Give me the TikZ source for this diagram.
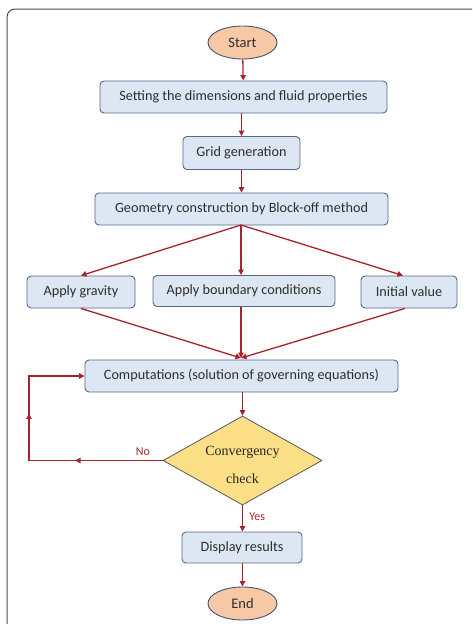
\documentclass[tikz,border=0pt]{standalone}
\usepackage{fontspec}
\setmainfont{Carlito}
\newfontfamily\serifdia{Liberation Serif}
\usetikzlibrary{shapes.geometric,arrows.meta,decorations.markings}
\definecolor{arr}{HTML}{A8242B}
\definecolor{boxfill}{HTML}{DDE7F3}
\definecolor{boxdraw}{HTML}{56698A}
\definecolor{ovalfill}{HTML}{F7C8A6}
\definecolor{diafill}{HTML}{FBDF87}
\definecolor{txt}{HTML}{2E2E2E}
\tikzset{
  procbox/.style={rectangle, rounded corners=4pt, draw=boxdraw, line width=0.9pt, fill=boxfill,
    inner sep=0pt, font=\fontsize{14.2}{16}\selectfont, text=txt},
  oval/.style={ellipse, draw=boxdraw!80!black, line width=0.9pt, fill=ovalfill, inner sep=0pt,
    minimum width=69pt, minimum height=33pt, font=\fontsize{14.5}{16}\selectfont, text=txt},
  dia/.style={diamond, draw=black!65, line width=0.8pt, fill=diafill, inner sep=0pt,
    minimum width=159pt, minimum height=89pt, aspect=1.8},
  flow/.style={draw=arr, line width=1.3pt, -{Triangle[length=5.5pt,width=5.5pt]}},
  loopmarks/.style={postaction={decorate}, decoration={markings,
    mark=at position 0.32 with {\arrow[arr]{Triangle[length=5.5pt,width=5.5pt]}},
    mark=at position 0.66 with {\arrow[arr]{Triangle[length=5.5pt,width=5.5pt]}}}},
  lab/.style={text=arr, font=\fontsize{12}{14}\selectfont}
}
\begin{document}
\begin{tikzpicture}[x=1pt,y=-1pt]
\useasboundingbox (0,0) rectangle (472,624);
% outer frame
\draw[black!70, line width=1pt, rounded corners=8pt] (472,9) -- (7,9) -- (7,626);
% nodes
\node[oval] (start) at (242.5,42.5) {Start};
\node[procbox, minimum width=287pt, minimum height=32pt] (set) at (243.5,97) {Setting the dimensions and fluid properties};
\node[procbox, minimum width=117pt, minimum height=33pt] (grid) at (241.5,153) {Grid generation};
\node[procbox, minimum width=293pt, minimum height=32pt] (geom) at (241.5,209) {Geometry construction by Block-off method};
\node[procbox, minimum width=108pt, minimum height=32pt] (grav) at (81,292) {Apply gravity};
\node[procbox, minimum width=182pt, minimum height=31pt] (bound) at (244,291) {Apply boundary conditions};
\node[procbox, minimum width=96pt, minimum height=32pt] (init) at (409,292) {Initial value};
\node[procbox, minimum width=313pt, minimum height=32pt] (comp) at (241.5,376) {Computations (solution of governing equations)};
\node[dia] (conv) at (242.5,460.5) {};
\node[font=\serifdia\fontsize{14}{16}\selectfont, text=black!85] (convA) at (242.5,452) {Convergency};
\node[font=\serifdia\fontsize{14}{16}\selectfont, text=black!85] (convB) at (242.5,479) {check};
\node[procbox, minimum width=120pt, minimum height=31pt] (disp) at (242,547.5) {Display results};
\node[oval] (end) at (242.5,603.5) {End};
\coordinate (c1) at (241,225);
\coordinate (c2) at (241,358);
\coordinate (lc) at (29,460.5);
\coordinate (lt) at (29,376);
% connectors
\draw[flow] (start) -- (set);
\draw[flow] (set.south -| grid) -- (grid);
\draw[flow] (grid) -- (geom.north -| grid);
\draw[flow] (c1) -- (grav.north);
\draw[flow] (c1) -- (bound.north -| c1);
\draw[flow] (c1) -- ([xshift=-6pt]init.north);
\draw[flow] (grav.south) -- (c2);
\draw[flow] (bound.south -| c2) -- (c2);
\draw[flow] ([xshift=-4pt]init.south) -- (c2);
\draw[flow] (comp.south -| conv) -- (conv.north);
\draw[flow] (conv.south) -- (disp.north -| conv) node[lab, pos=0.45, right=3pt] (yes) {Yes};
\draw[flow] (disp.south -| end) -- (end.north);
\draw[flow, loopmarks] (conv.west) -- (lc) -- (lt) -- (comp.west);
\node[lab] (no) at (143,452) {No};
\end{tikzpicture}
\end{document}
